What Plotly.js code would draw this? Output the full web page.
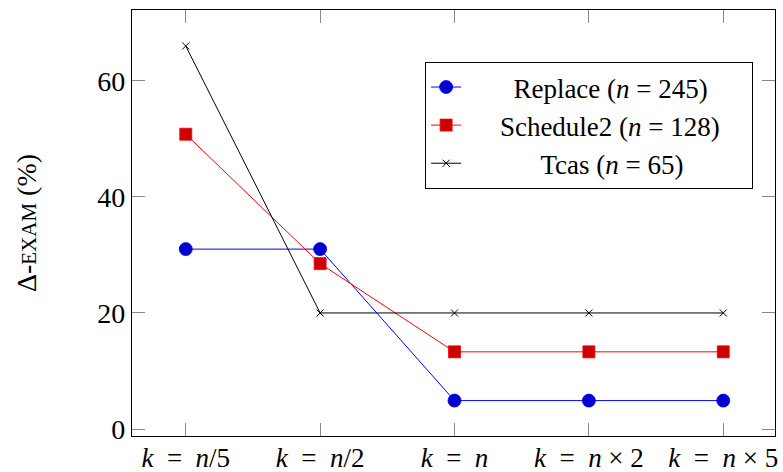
<!DOCTYPE html>
<html>
<head>
<meta charset="utf-8">
<script src="https://cdn.plot.ly/plotly-3.0.1.min.js"></script>
<style>html,body{margin:0;padding:0;background:#fff;}#chart{width:783px;height:472px;}</style>
</head>
<body>
<div id="chart"></div>
<script>
const S = '\u00a0';
const categories = [0, 1, 2, 3, 4];
const tickLabels = [
  '<i>k</i>' + S + S + '=' + S + S + '<i>n</i>/5',
  '<i>k</i>' + S + S + '=' + S + S + '<i>n</i>/2',
  '<i>k</i>' + S + S + '=' + S + S + '<i>n</i>',
  '<i>k</i>' + S + S + '=' + S + S + '<i>n</i>' + S + '×' + S + '2',
  '<i>k</i>' + S + S + '=' + S + S + '<i>n</i>' + S + '×' + S + '5'
];
const replaceValues = [31.0, 31.0, 4.9, 4.9, 4.9];
const schedule2Values = [50.8, 28.5, 13.3, 13.3, 13.3];
const tcasValues = [66.0, 20.0, 20.0, 20.0, 20.0];
const seriesNames = [
  S.repeat(7) + 'Replace (<i>n</i>' + S + '=' + S + '245)',
  S.repeat(5) + 'Schedule2 (<i>n</i>' + S + '=' + S + '128)' + S.repeat(4),
  S.repeat(11) + 'Tcas (<i>n</i>' + S + '=' + S + '65)'
];

const FONT = 'Liberation Serif, Times New Roman, serif';

const traces = [
  {x: categories, y: replaceValues, name: seriesNames[0], mode: 'lines+markers',
   line: {color: '#0000ff', width: 1},
   marker: {symbol: 'circle', size: 13, color: '#0000cc', line: {color: '#0000ff', width: 0.8}}},
  {x: categories, y: schedule2Values, name: seriesNames[1], mode: 'lines+markers',
   line: {color: '#ff0000', width: 1},
   marker: {symbol: 'square', size: 12, color: '#cc0000', line: {color: '#ff0000', width: 0.8}}},
  {x: categories, y: tcasValues, name: seriesNames[2], mode: 'lines+markers',
   line: {color: '#000000', width: 1},
   marker: {symbol: 'x-thin', size: 7, color: '#000000', line: {color: '#000000', width: 1}}}
];

const layout = {
  width: 783, height: 472,
  margin: {l: 132, r: 8, t: 10, b: 36},
  paper_bgcolor: '#fff', plot_bgcolor: '#fff',
  font: {family: FONT, size: 27, color: '#000'},
  showlegend: true,
  legend: {x: 0.966, y: 0.878, xanchor: 'right', yanchor: 'top',
    bordercolor: '#000', borderwidth: 1, bgcolor: '#fff',
    font: {family: FONT, size: 27, color: '#000'}},
  xaxis: {range: [-0.4, 4.385], tickmode: 'array', tickvals: categories, ticktext: tickLabels,
    showgrid: false, zeroline: false, showline: true, linecolor: '#000', linewidth: 1.2, mirror: 'ticks',
    ticks: 'inside', ticklen: 13, tickcolor: '#888', tickwidth: 1, ticklabelstandoff: -3,
    tickfont: {family: FONT, size: 27}},
  yaxis: {range: [-1.2, 72.2], tickvals: [0, 20, 40, 60],
    showgrid: false, zeroline: false, showline: true, linecolor: '#000', linewidth: 1.2, mirror: 'ticks',
    ticks: 'inside', ticklen: 13, tickcolor: '#888', tickwidth: 1,
    tickfont: {family: FONT, size: 28},
    title: {text: 'Δ-<span style="font-size:21px">EXAM</span> (%)', font: {family: FONT, size: 28}, standoff: 52}}
};

Plotly.newPlot('chart', traces, layout, {staticPlot: true, displayModeBar: false});
</script>
</body>
</html>
